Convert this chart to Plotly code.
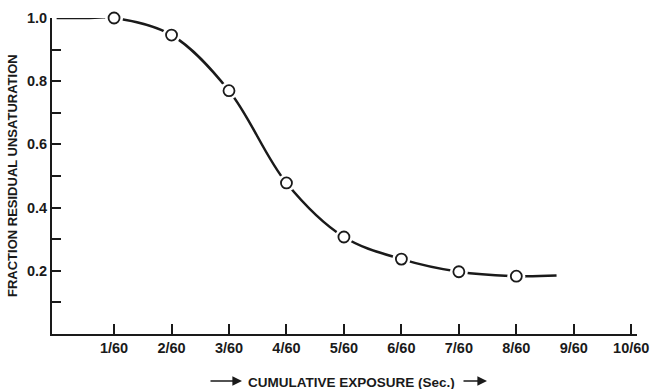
import plotly.graph_objects as go

# Measured points (cumulative exposure in 1/60 s units, fraction residual unsaturation)
exposure = [1, 2, 3, 4, 5, 6, 7, 8]
fraction = [1.0, 0.946, 0.77, 0.478, 0.307, 0.237, 0.197, 0.183]

# Hand-drawn smooth curve through the data
curve_x = [0, 0.5, 1, 2, 3, 4, 5, 6, 7, 8, 8.7]
curve_y = [1.0, 1.0, 1.0, 0.946, 0.77, 0.478, 0.307, 0.237, 0.197, 0.183, 0.185]

x_ticks = [1, 2, 3, 4, 5, 6, 7, 8, 9, 10]
x_labels = ["1/60", "2/60", "3/60", "4/60", "5/60", "6/60", "7/60", "8/60", "9/60", "10/60"]
y_ticks = [0.1, 0.2, 0.3, 0.4, 0.5, 0.6, 0.7, 0.8, 0.9, 1.0]
y_labels = ["", "0.2", "", "0.4", "", "0.6", "", "0.8", "", "1.0"]

ink = "#1a1a1a"
font = "Liberation Sans, Arial, sans-serif"

fig = go.Figure()
fig.add_trace(go.Scatter(x=curve_x, y=curve_y, mode="lines",
                         line=dict(color=ink, width=2.5, shape="spline", smoothing=1.0),
                         hoverinfo="skip", showlegend=False, cliponaxis=False))
# white halo to break the line around markers
fig.add_trace(go.Scatter(x=exposure, y=fraction, mode="markers",
                         marker=dict(symbol="circle", size=18, color="white", line=dict(width=0)),
                         hoverinfo="skip", showlegend=False, cliponaxis=False))
fig.add_trace(go.Scatter(x=exposure, y=fraction, mode="markers",
                         marker=dict(symbol="circle", size=11, color="white",
                                     line=dict(color=ink, width=1.8)),
                         showlegend=False, cliponaxis=False))

tickfont = dict(size=14.5, family=font, color=ink, weight=600)
fig.update_layout(
    width=653, height=389,
    margin=dict(l=52, r=16, t=18, b=55, autoexpand=False),
    paper_bgcolor="white", plot_bgcolor="white",
    font=dict(family=font, color=ink, size=13),
    xaxis=dict(range=[-0.08, 10.1], tickvals=x_ticks, ticktext=x_labels,
               ticks="inside", ticklen=10, tickwidth=1.8, tickcolor=ink,
               showline=True, linecolor=ink, linewidth=2, showgrid=False, zeroline=False,
               automargin=False, tickfont=tickfont),
    yaxis=dict(range=[0, 1.0], tickvals=y_ticks, ticktext=y_labels,
               ticks="inside", ticklen=9, tickwidth=1.8, tickcolor=ink,
               showline=True, linecolor=ink, linewidth=2, showgrid=False, zeroline=False,
               automargin=False, tickfont=tickfont),
)

fig.add_annotation(text="FRACTION RESIDUAL UNSATURATION", xref="paper", yref="paper",
                   x=0, y=0.5, xshift=-40, textangle=-90, showarrow=False,
                   xanchor="center", yanchor="middle",
                   font=dict(size=13, family=font, color=ink, weight=600))
fig.add_annotation(text="CUMULATIVE EXPOSURE (Sec.)", xref="paper", yref="paper",
                   x=(351 - 52) / 585, y=(334 - 382) / 316, showarrow=False,
                   xanchor="center", yanchor="middle",
                   font=dict(size=13.5, family=font, color=ink, weight=600))
for head_px, length in [(242, 33), (487, 25)]:
    fig.add_annotation(text="", xref="paper", yref="paper",
                       x=(head_px - 52) / 585, y=(334 - 381) / 316,
                       ax=-length, ay=0, showarrow=True,
                       arrowhead=2, arrowsize=1.2, arrowwidth=1.6, arrowcolor=ink)

fig.write_html("out.html", config={"displayModeBar": False},
               post_script="document.body.style.margin='0';document.body.style.overflow='hidden';")
